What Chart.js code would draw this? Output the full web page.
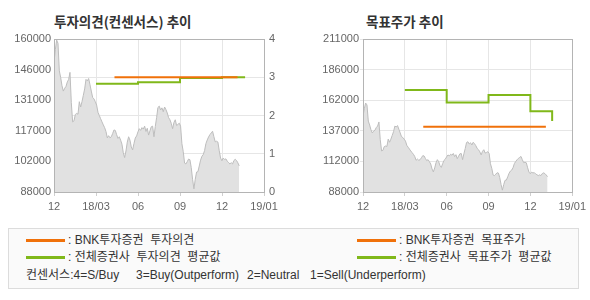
<!DOCTYPE html>
<html>
<head>
<meta charset="utf-8">
<script src="https://cdn.jsdelivr.net/npm/chart.js@4"></script>
<style>
  body { margin: 0; background: #fff; width: 590px; height: 300px; position: relative; overflow: hidden; }
  .box { position: absolute; top: 0; width: 295px; height: 220px; }
  .title { position: absolute; top: 12px; font: bold 13.5px 'Noto Sans CJK KR', sans-serif; color: #333; line-height: 18px; white-space: pre; }
  .legend { position: absolute; left: 8px; top: 228px; width: 569px; height: 59px; border: 1px solid #dcdcdc; background: #fafafa; }
  .swatch { position: absolute; width: 39px; height: 3px; }
  .txt { position: absolute; font: 12px 'Liberation Sans', 'Noto Sans CJK KR', sans-serif; color: #333; line-height: 14px; white-space: pre; }
</style>
</head>
<body>
<div class="title" style="left:54px">투자의견(컨센서스) 추이</div>
<div class="title" style="left:366px">목표주가 추이</div>
<div class="box" style="left:0"><canvas id="opinionChart" width="295" height="220"></canvas></div>
<div class="box" style="left:295px"><canvas id="targetChart" width="295" height="220"></canvas></div>

<div class="legend">
  <div class="swatch" style="left:17px;top:10px;background:#F0710A"></div>
  <div class="txt" style="left:59px;top:4px">: BNK투자증권  투자의견</div>
  <div class="swatch" style="left:17px;top:27px;background:#80B81A"></div>
  <div class="txt" style="left:59px;top:21px">: 전체증권사  투자의견  평균값</div>
  <div class="swatch" style="left:348px;top:10px;background:#F0710A"></div>
  <div class="txt" style="left:390px;top:4px">: BNK투자증권  목표주가</div>
  <div class="swatch" style="left:348px;top:27px;background:#80B81A"></div>
  <div class="txt" style="left:390px;top:21px">: 전체증권사  목표주가  평균값</div>
  <div class="txt" style="left:17px;top:39px">컨센서스:4=S/Buy</div>
  <div class="txt" style="left:127px;top:39px">3=Buy(Outperform)</div>
  <div class="txt" style="left:238px;top:39px">2=Neutral</div>
  <div class="txt" style="left:301px;top:39px">1=Sell(Underperform)</div>
</div>

<script>
const X_LABELS = ['12', '18/03', '06', '09', '12', '19/01'];
const OPINION_Y_LABELS = ['88000', '102000', '117000', '131000', '146000', '160000'];
const TARGET_Y_LABELS = ['88000', '112000', '137000', '162000', '186000', '211000'];

// closing price, Dec 2017 -> Dec 2018
const PRICE = [
  149000, 155000, 159500, 158000, 145000, 141900, 138000, 135500, 136800, 137700,
  139800, 141000, 144300, 130000, 121000, 121500, 124500, 125000, 124600, 130500,
  128000, 130500, 133500, 136500, 141000, 140300, 141400, 138500, 135500, 132500,
  131800, 130500, 128900, 125500, 124000, 122500, 121000, 119600, 118300, 116500,
  113500, 114500, 113500, 114000, 115500, 117200, 117000, 115000, 113200, 114000,
  112400, 110500, 106500, 104200, 107300, 111500, 114000, 112400, 109200, 107800,
  110800, 113400, 114400, 116300, 117800, 117000, 118300, 117600, 119000, 116500,
  118000, 114800, 116800, 118700, 119000, 114000, 118800, 123000, 127800, 128400,
  126600, 127600, 125800, 128000, 126800, 125200, 123000, 122000, 120300, 117800,
  120700, 122000, 119300, 119800, 120400, 119000, 110700, 107000, 101600, 101200,
  102300, 103500, 103200, 99500, 94000, 89500, 94000, 97400, 97600, 100200,
  103000, 104800, 105600, 107500, 110800, 112500, 113900, 115000, 115800, 116600,
  114000, 111600, 111900, 111500, 107500, 104000, 102700, 104000, 103300, 103600,
  102500, 101900, 101200, 101800, 101200, 102800, 103400, 102800, 101700, 100300,
];
const PRICE_END = 4.41;

const BNK_OPINION_X = [1.44, 4.37];
const BNK_OPINION = [3, 3];
const AVG_OPINION_X = [1, 2, 3, 4, 4.55];
const AVG_OPINION = [2.83, 2.87, 2.98, 3.0, 3.0];

const BNK_TARGET_X = [1.44, 4.37];
const BNK_TARGET = [140500, 140500];
const AVG_TARGET_X = [1, 2, 3, 4, 4.52];
const AVG_TARGET = [170000, 160000, 166000, 153000, 145000];

const ORANGE = '#F0710A';
const GREEN = '#80B81A';
const GRID_COLOR = '#e6e6e6';
const FRAME_COLOR = '#b4b4b4';
const TICK_COLOR = '#666';

Chart.defaults.font.family = "'Liberation Sans', Arial, sans-serif";
Chart.defaults.font.size = 11;
Chart.defaults.color = TICK_COLOR;

const toPoints = (xs, ys) => xs.map((x, i) => ({ x, y: ys[i] }));
const pricePoints = PRICE.map((v, i) => ({ x: (i * PRICE_END) / (PRICE.length - 1), y: v }));

const framePlugin = {
  id: 'frame',
  afterDatasetsDraw(chart) {
    const { ctx, chartArea: a } = chart;
    ctx.save();
    ctx.strokeStyle = FRAME_COLOR;
    ctx.lineWidth = 1;
    ctx.strokeRect(
      Math.round(a.left) + 0.5,
      Math.round(a.top) + 0.5,
      Math.round(a.right) - Math.round(a.left),
      Math.round(a.bottom) - Math.round(a.top)
    );
    ctx.restore();
  },
};

const LINE_STYLE = { borderWidth: 2, pointRadius: 0, fill: false };

const priceDataset = (axis) => ({
  data: pricePoints,
  yAxisID: axis,
  borderColor: '#bdbdbd',
  backgroundColor: '#e1e1e1',
  borderWidth: 1,
  pointRadius: 0,
  fill: 'start',
});

const xScale = {
  type: 'linear',
  min: 0,
  max: 5,
  afterFit: (s) => { s.height = 28; },
  afterBuildTicks: (s) => { s.ticks = X_LABELS.map((_, i) => ({ value: i })); },
  ticks: { callback: (_, i) => X_LABELS[i], padding: 4, maxRotation: 0, autoSkip: false },
  grid: { color: GRID_COLOR, tickLength: 4, tickColor: '#cfcfcf' },
  border: { display: false },
};

const OPTIONS_BASE = {
  responsive: false,
  animation: false,
  plugins: { legend: { display: false }, tooltip: { enabled: false } },
};

new Chart(document.getElementById('opinionChart'), {
  type: 'line',
  data: {
    datasets: [
      { data: toPoints(BNK_OPINION_X, BNK_OPINION), yAxisID: 'y1', borderColor: ORANGE, ...LINE_STYLE },
      { data: toPoints(AVG_OPINION_X, AVG_OPINION), yAxisID: 'y1', borderColor: GREEN, stepped: 'before', ...LINE_STYLE },
      priceDataset('y'),
    ],
  },
  options: {
    ...OPTIONS_BASE,
    layout: { padding: { top: 39, left: 0, right: 0, bottom: 0 } },
    scales: {
      x: xScale,
      y: {
        position: 'left',
        min: 88000,
        max: 160000,
        afterFit: (s) => { s.width = 54; },
        afterBuildTicks: (s) => { s.ticks = OPINION_Y_LABELS.map((_, i) => ({ value: 88000 + i * 14400 })); },
        ticks: { callback: (_, i) => OPINION_Y_LABELS[i], padding: 3 },
        grid: { drawOnChartArea: false, drawTicks: false },
        border: { display: false },
      },
      y1: {
        position: 'right',
        min: 0,
        max: 4,
        afterFit: (s) => { s.width = 31; },
        ticks: { stepSize: 1, padding: 5 },
        grid: { color: GRID_COLOR, drawTicks: false },
        border: { display: false },
      },
    },
  },
  plugins: [framePlugin],
});

new Chart(document.getElementById('targetChart'), {
  type: 'line',
  data: {
    datasets: [
      { data: toPoints(BNK_TARGET_X, BNK_TARGET), borderColor: ORANGE, ...LINE_STYLE },
      { data: toPoints(AVG_TARGET_X, AVG_TARGET), borderColor: GREEN, stepped: 'before', ...LINE_STYLE },
      priceDataset('y'),
    ],
  },
  options: {
    ...OPTIONS_BASE,
    layout: { padding: { top: 39, left: 0, right: 17, bottom: 0 } },
    scales: {
      x: xScale,
      y: {
        position: 'left',
        min: 88000,
        max: 211000,
        afterFit: (s) => { s.width = 68; },
        afterBuildTicks: (s) => { s.ticks = TARGET_Y_LABELS.map((_, i) => ({ value: 88000 + i * 24600 })); },
        ticks: { callback: (_, i) => TARGET_Y_LABELS[i], padding: 1 },
        grid: { color: GRID_COLOR, tickLength: 3 },
        border: { display: false },
      },
    },
  },
  plugins: [framePlugin],
});
</script>
</body>
</html>
